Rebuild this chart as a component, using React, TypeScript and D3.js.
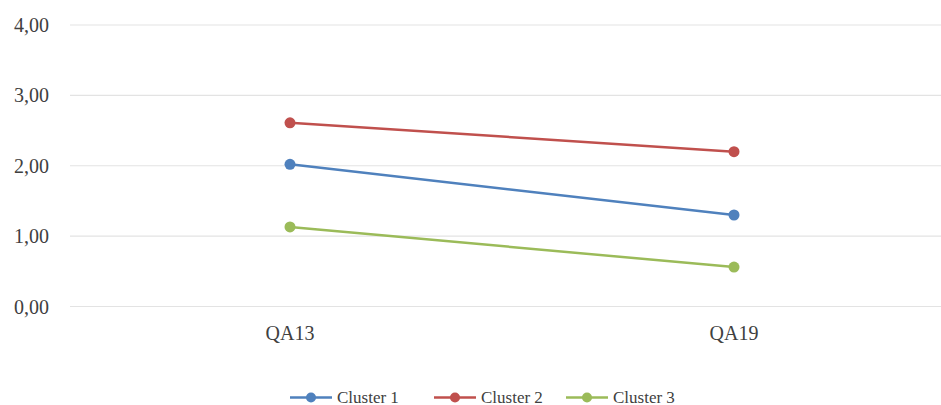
import React from "react";
import * as d3 from "d3";

const categories = ["QA13", "QA19"];
const seriesNames = ["Cluster 1", "Cluster 2", "Cluster 3"];
const cluster1 = [2.02, 1.3];
const cluster2 = [2.61, 2.2];
const cluster3 = [1.13, 0.56];
const yTicks = [0, 1, 2, 3, 4];
const colors = ["#4F81BD", "#C0504D", "#9BBB59"];

const W = 941;
const H = 405;
const FONT = "Liberation Serif, DejaVu Serif, serif";

export default function App() {
  const series = [cluster1, cluster2, cluster3];
  const x = d3.scaleBand<string>().domain(categories).range([68, 956]);
  const y = d3.scaleLinear().domain([0, 4]).range([306.5, 25]);
  const fmt = (v: number) => v.toFixed(2).replace(".", ",");
  const line = d3
    .line<number>()
    .x((_, i) => (x(categories[i]) as number) + x.bandwidth() / 2)
    .y((d) => y(d));

  const legendX = [290, 434, 566];

  return (
    <svg
      width={W}
      height={H}
      style={{ position: "absolute", left: 0, top: 0, background: "#fff" }}
    >
      {yTicks.map((t) => (
        <g key={t}>
          <line x1={70} x2={W} y1={y(t)} y2={y(t)} stroke="#e3e3e3" strokeWidth={1.2} />
          <text x={49} y={y(t) + 7} textAnchor="end" fontSize={20} fill="#404040" style={{ fontFamily: FONT }}>
            {fmt(t)}
          </text>
        </g>
      ))}
      {categories.map((c) => (
        <text
          key={c}
          x={(x(c) as number) + x.bandwidth() / 2}
          y={340}
          textAnchor="middle"
          fontSize={20}
          fill="#404040"
          style={{ fontFamily: FONT }}
        >
          {c}
        </text>
      ))}
      {series.map((s, si) => (
        <g key={si}>
          <path d={line(s) || ""} fill="none" stroke={colors[si]} strokeWidth={2.5} />
          {s.map((v, i) => (
            <circle
              key={i}
              cx={(x(categories[i]) as number) + x.bandwidth() / 2}
              cy={y(v)}
              r={5.5}
              fill={colors[si]}
            />
          ))}
        </g>
      ))}
      {seriesNames.map((n, si) => (
        <g key={n} transform={`translate(${legendX[si]},397.5)`}>
          <line x1={0} x2={42} y1={0} y2={0} stroke={colors[si]} strokeWidth={2.5} />
          <circle cx={21} cy={0} r={5} fill={colors[si]} />
          <text x={47} y={5} fontSize={17} fill="#404040" style={{ fontFamily: FONT }}>
            {n}
          </text>
        </g>
      ))}
    </svg>
  );
}
